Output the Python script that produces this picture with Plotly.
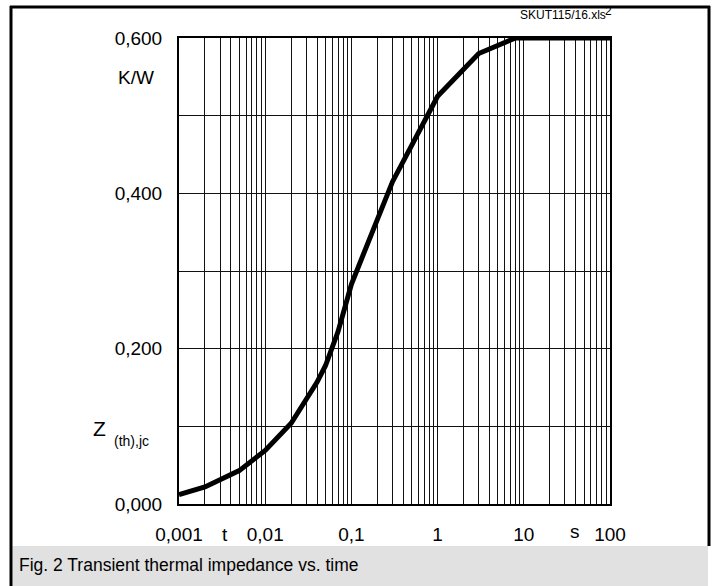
import plotly.graph_objects as go

# Data
time_s = [0.001, 0.002, 0.005, 0.01, 0.02, 0.03, 0.04, 0.05, 0.06, 0.07, 0.1, 0.2, 0.3, 1, 3, 8, 100]
zth_kw = [0.012, 0.022, 0.043, 0.069, 0.104, 0.135, 0.157, 0.178, 0.2, 0.222, 0.283, 0.365, 0.415, 0.525, 0.58, 0.6, 0.6]

x_decades = [0.001, 0.01, 0.1, 1, 10, 100]
x_decade_labels = ["0,001", "0,01", "0,1", "1", "10", "100"]
y_grid = [0.0, 0.1, 0.2, 0.3, 0.4, 0.5, 0.6]
y_labels = ["0,000", "", "0,200", "", "0,400", "", "0,600"]

W, H = 717, 586
L, R, T, B = 179, 610, 38, 504
pw, ph = R - L, B - T

def px(x):
    return (x - L) / pw

def py(y):
    return (B - y) / ph

# x tick values: all log grid lines
xt, xtt = [], []
for d, lab in zip(x_decades, x_decade_labels):
    for m in range(1, 10):
        v = d * m
        if v > 100.0001:
            break
        xt.append(v)
        xtt.append(lab if m == 1 else "")

fig = go.Figure()
fig.add_trace(go.Scatter(x=time_s, y=zth_kw, mode="lines",
                         line=dict(color="black", width=5),
                         showlegend=False, hoverinfo="skip"))

font = dict(family="Liberation Sans, Arial, sans-serif", color="black")

fig.update_layout(
    width=W, height=H,
    margin=dict(l=L, r=W - R, t=T, b=H - B, autoexpand=False),
    paper_bgcolor="white", plot_bgcolor="white",
    font=dict(**font, size=19),
    xaxis=dict(type="log", range=[-3, 2], tickvals=xt, ticktext=xtt,
               showgrid=True, gridcolor="#111111", gridwidth=1.2,
               showline=True, linecolor="black", linewidth=2, mirror=True,
               ticks="", ticklabelstandoff=12, zeroline=False,
               tickfont=dict(**font, size=19)),
    yaxis=dict(range=[0, 0.6], tickvals=y_grid, ticktext=y_labels,
               showgrid=True, gridcolor="#111111", gridwidth=1.2,
               showline=True, linecolor="black", linewidth=2, mirror=True,
               ticks="", ticklabelstandoff=11, zeroline=False,
               tickfont=dict(**font, size=19)),
)

shapes = [
    # outer frame
    dict(type="line", xref="paper", yref="paper", x0=px(10), x1=px(710), y0=py(7), y1=py(7),
         line=dict(color="black", width=3)),
    dict(type="line", xref="paper", yref="paper", x0=px(11), x1=px(11), y0=py(6), y1=py(586),
         line=dict(color="black", width=3)),
    dict(type="line", xref="paper", yref="paper", x0=px(709), x1=px(709), y0=py(6), y1=py(546),
         line=dict(color="black", width=3)),
    # caption bar
    dict(type="rect", xref="paper", yref="paper", x0=px(12.5), x1=px(708), y0=py(546), y1=py(586),
         fillcolor="#e1e1e1", line=dict(width=0), layer="below"),
]
fig.update_layout(shapes=shapes)

ann = [
    dict(text="Fig. 2 Transient thermal impedance vs. time", x=px(17), y=py(565),
         xanchor="left", yanchor="middle", font=dict(**font, size=17.5)),
    dict(text="SKUT115/16.xls", x=px(518), y=py(15),
         xanchor="left", yanchor="middle", font=dict(**font, size=12)),
    dict(text="2", x=px(603), y=py(11), xanchor="left", yanchor="middle",
         font=dict(**font, size=12)),
    dict(text="K/W", x=px(156), y=py(77), xanchor="right", yanchor="middle",
         font=dict(**font, size=19)),
    dict(text="Z", x=px(91), y=py(428), xanchor="left", yanchor="middle",
         font=dict(**font, size=21)),
    dict(text="(th),jc", x=px(112), y=py(441), xanchor="left", yanchor="middle",
         font=dict(**font, size=14)),
    dict(text="t", x=px(225), y=py(534), xanchor="center", yanchor="middle",
         font=dict(**font, size=19)),
    dict(text="s", x=px(575), y=py(531), xanchor="center", yanchor="middle",
         font=dict(**font, size=19)),
]
for a in ann:
    a.update(xref="paper", yref="paper", showarrow=False)
fig.update_layout(annotations=ann)

fig.write_html("out.html", post_script="document.body.style.margin='0px';",
               config={"displayModeBar": False})
